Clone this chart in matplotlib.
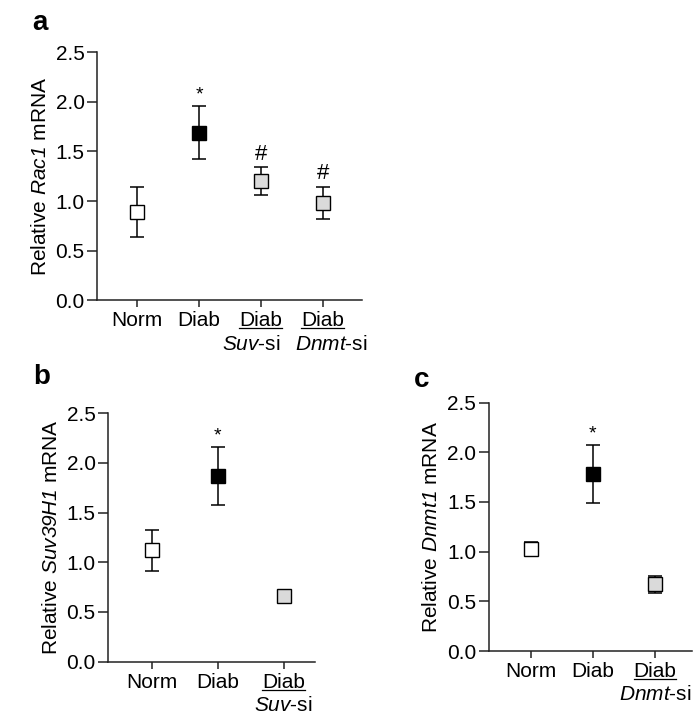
import matplotlib
matplotlib.use("Agg")
import matplotlib.pyplot as plt
from matplotlib.lines import Line2D

plt.rcParams['font.family'] = ['Liberation Sans', 'DejaVu Sans']
# math text is only used for the italic gene names, so make "rm" italic too
plt.rcParams['mathtext.fontset'] = 'custom'
plt.rcParams['mathtext.rm'] = 'Liberation Sans:italic'
plt.rcParams['mathtext.it'] = 'Liberation Sans:italic'
plt.rcParams['mathtext.default'] = 'rm'

# panel a - Rac1
labels_a = ["Norm", "Diab", "Diab", "Diab"]
sub_a = ["", "", r"$Suv$-si", r"$Dnmt$-si"]
rac1_mean = [0.89, 1.69, 1.20, 0.98]
rac1_err = [0.25, 0.27, 0.14, 0.16]
marks_a = ["", "*", "#", "#"]

# panel b - Suv39H1
labels_b = ["Norm", "Diab", "Diab"]
sub_b = ["", "", r"$Suv$-si"]
suv_mean = [1.12, 1.87, 0.66]
suv_err = [0.21, 0.29, 0.02]
marks_b = ["", "*", ""]

# panel c - Dnmt1
labels_c = ["Norm", "Diab", "Diab"]
sub_c = ["", "", r"$Dnmt$-si"]
dnmt_mean = [1.03, 1.78, 0.67]
dnmt_err = [0.07, 0.29, 0.085]
marks_c = ["", "*", ""]

fills_a = ["white", "black", "#dadada", "#dadada"]
fills_bc = ["white", "black", "#dadada"]

fig = plt.figure(figsize=(6.93, 7.15), dpi=100)
ax_a = fig.add_axes([0.140, 0.580, 0.382, 0.347])
ax_b = fig.add_axes([0.156, 0.0746, 0.298, 0.3474])
ax_c = fig.add_axes([0.705, 0.0895, 0.294, 0.3475])

underline = []


def panel(ax, labels, subs, means, errs, marks, fills, ylabel, xlim, sub_dx):
    xs = list(range(len(means)))
    ax.errorbar(xs, means, yerr=errs, fmt='none', ecolor='black',
                elinewidth=1.1, capsize=5, capthick=1.1, zorder=2)
    for x, m, f in zip(xs, means, fills):
        ax.plot([x], [m], marker='s', markersize=10, markerfacecolor=f,
                markeredgecolor='black', markeredgewidth=1.0, zorder=3)
    for x, m, e, s in zip(xs, means, errs, marks):
        if s:
            ax.annotate(s, (x, m + e), xytext=(0, 2), textcoords='offset points',
                        ha='center', va='bottom', fontsize=16 if s == "#" else 14)
    ax.set_ylim(0, 2.5)
    ax.set_yticks([0, 0.5, 1.0, 1.5, 2.0, 2.5])
    ax.set_yticklabels(["0.0", "0.5", "1.0", "1.5", "2.0", "2.5"])
    ax.set_xlim(*xlim)
    ax.set_xticks(xs)
    ax.set_xticklabels(labels)
    ax.spines['top'].set_visible(False)
    ax.spines['right'].set_visible(False)
    for sp in ['left', 'bottom']:
        ax.spines[sp].set_linewidth(1.1)
        ax.spines[sp].set_color('#222222')
    ax.tick_params(direction='out', width=1.1, labelsize=15, color='#222222')
    ax.tick_params(axis='y', length=7, pad=2)
    ax.tick_params(axis='x', length=5, pad=3)
    ax.set_ylabel(ylabel, fontsize=15, labelpad=4)
    for x, s, dx in zip(xs, subs, sub_dx):
        if s:
            ax.annotate(s, (x + dx, 0), xycoords=ax.get_xaxis_transform(),
                        xytext=(0, -31.5), textcoords='offset points',
                        ha='center', va='center', fontsize=15)
            underline.append((ax, x))


panel(ax_a, labels_a, sub_a, rac1_mean, rac1_err, marks_a, fills_a,
      r"Relative $Rac1$ mRNA", (-0.65, 3.63), [0, 0, -0.15, 0.13])
panel(ax_b, labels_b, sub_b, suv_mean, suv_err, marks_b, fills_bc,
      r"Relative $Suv39H1$ mRNA", (-0.67, 2.47), [0, 0, 0])
panel(ax_c, labels_c, sub_c, dnmt_mean, dnmt_err, marks_c, fills_bc,
      r"Relative $Dnmt1$ mRNA", (-0.68, 2.6), [0, 0, 0])

fig.text(0.058, 0.968, "a", fontsize=20, fontweight='bold', ha='center', va='center')
fig.text(0.060, 0.473, "b", fontsize=20, fontweight='bold', ha='center', va='center')
fig.text(0.609, 0.469, "c", fontsize=20, fontweight='bold', ha='center', va='center')

# underline the "Diab" of the siRNA groups
fig.canvas.draw()
inv = fig.transFigure.inverted()
for ax, x in underline:
    lbl = ax.get_xticklabels()[x]
    bb = lbl.get_window_extent()
    (x0, y0), (x1, _) = inv.transform([(bb.x0, bb.y0 + 2), (bb.x1, bb.y0 + 2)])
    fig.add_artist(Line2D([x0, x1], [y0, y0], transform=fig.transFigure,
                          color='black', linewidth=0.9))

fig.savefig("out.png", dpi=100)
